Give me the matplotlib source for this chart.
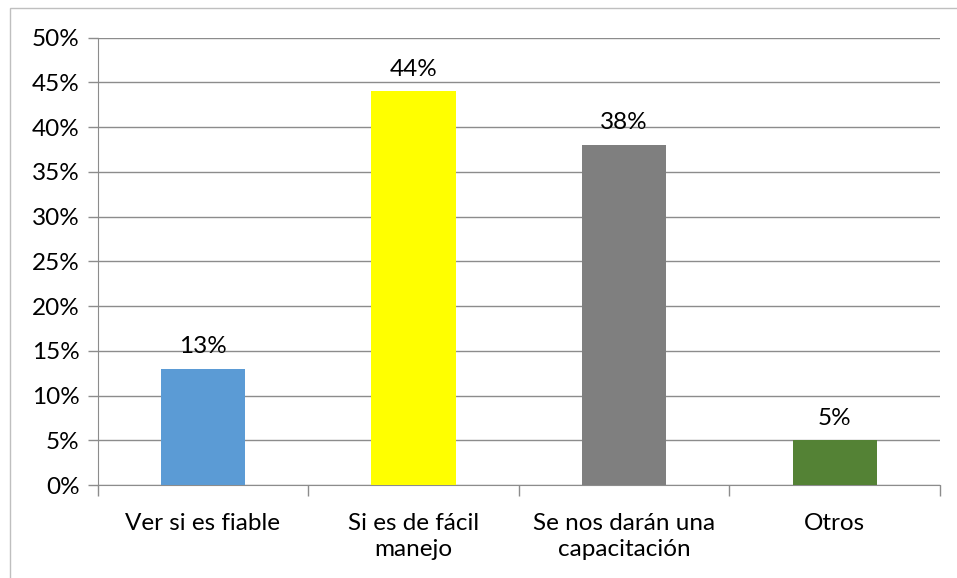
import matplotlib.pyplot as plt
from matplotlib.patches import Rectangle
from matplotlib.ticker import FuncFormatter, MultipleLocator

categories = ["Ver si es fiable", "Si es de fácil\nmanejo", "Se nos darán una\ncapacitación", "Otros"]
values = [13, 44, 38, 5]
colors = ["#5B9BD5", "#FFFF00", "#7F7F7F", "#548235"]

plt.rcParams["font.family"] = ["Lato", "DejaVu Sans"]
FS = 17.5

fig = plt.figure(figsize=(9.57, 5.78), dpi=100)
ax = fig.add_axes([97.7 / 957, 1 - 485 / 578, (940 - 97.7) / 957, (485 - 37.7) / 578])

# outer chart border
fig.patches.append(Rectangle((10 / 957, -0.05), 1.1, 1 - 8 / 578 + 0.05,
                             transform=fig.transFigure, fill=False,
                             edgecolor="#BFBFBF", linewidth=1))

x = range(len(categories))
bars = ax.bar(x, values, width=0.4, color=colors, zorder=3)
for b, v in zip(bars, values):
    ax.text(b.get_x() + b.get_width() / 2, v + 1.3, f"{v}%", ha="center",
            va="bottom", fontsize=FS, color="#000000")

# category labels drawn as text so multi-line ones stay centred
for i, cat in enumerate(categories):
    ax.annotate(cat, xy=(i, 0), xycoords=("data", "axes fraction"),
                xytext=(0, -20), textcoords="offset points", ha="center",
                va="top", multialignment="center", linespacing=1.3,
                fontsize=FS, annotation_clip=False)

ax.set_xlim(-0.5, 3.5)
ax.set_ylim(0, 50)
ax.yaxis.set_major_locator(MultipleLocator(5))
ax.yaxis.set_major_formatter(FuncFormatter(lambda v, p: f"{int(v)}%"))
ax.grid(axis="y", color="#8C8C8C", linewidth=1, zorder=0)

ax.set_xticks([-0.5, 0.5, 1.5, 2.5, 3.5])
ax.set_xticklabels([])
ax.tick_params(axis="x", length=8, color="#8C8C8C", width=1)
ax.tick_params(axis="y", length=7, color="#8C8C8C", width=1, labelsize=FS, pad=6)

for s in ["top", "right"]:
    ax.spines[s].set_visible(False)
ax.spines["left"].set_color("#8C8C8C")
ax.spines["bottom"].set_color("#8C8C8C")

fig.savefig("out.png", dpi=100)
